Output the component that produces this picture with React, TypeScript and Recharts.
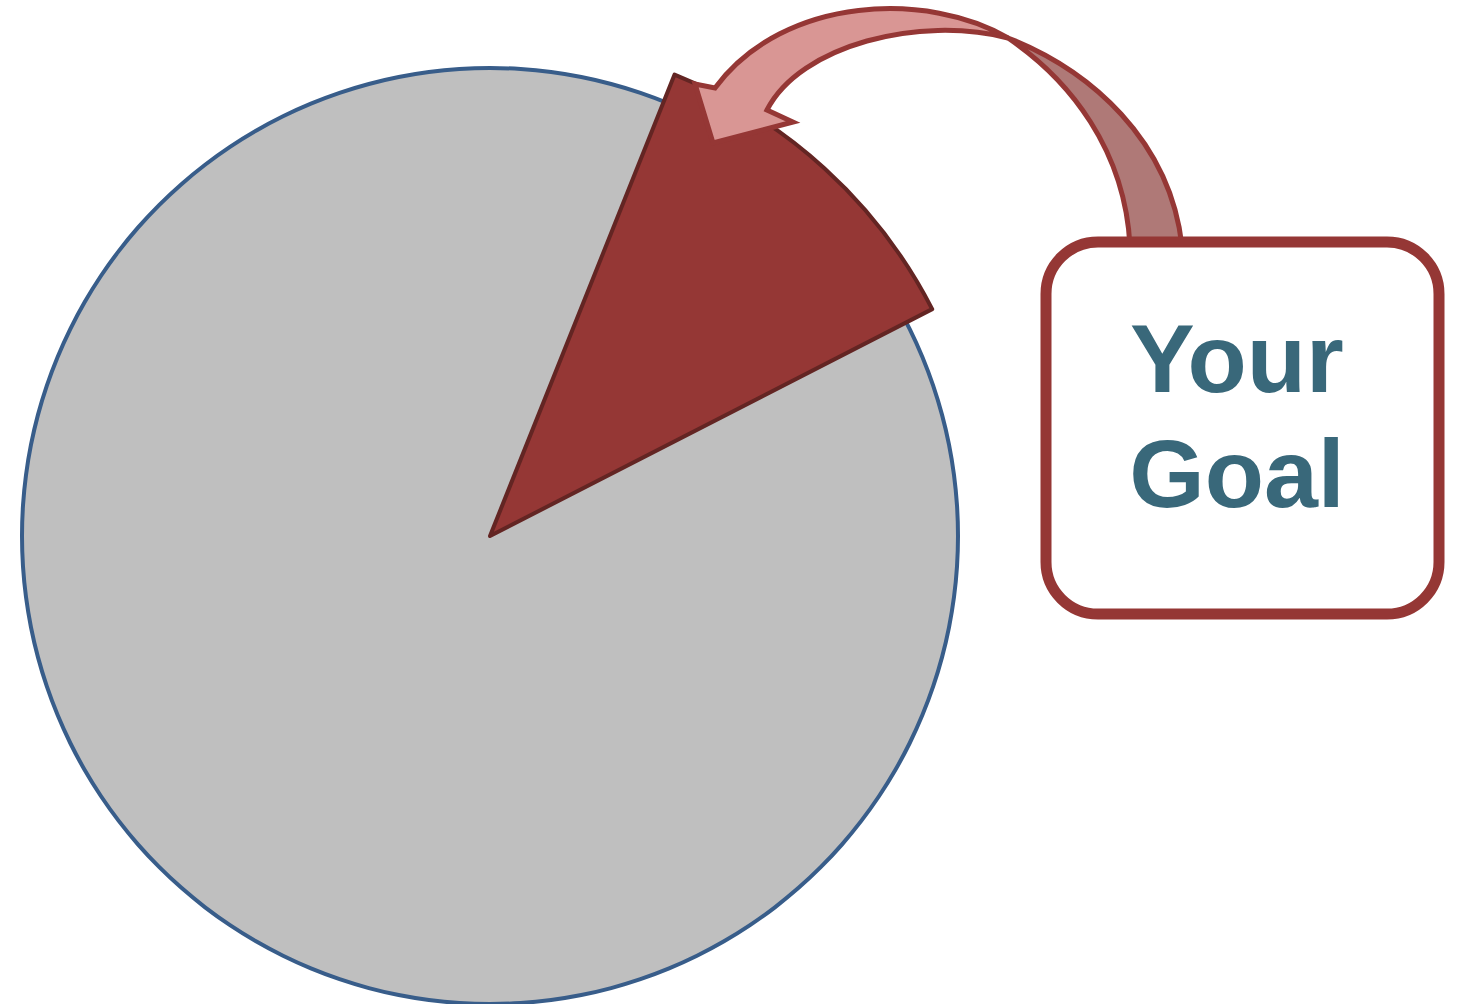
import { PieChart, Pie, Cell } from "recharts";

// share of the whole that the goal wedge covers
const sliceNames = ["Your Goal", "Rest"];
const sliceValues = [11.4, 88.6];
const wholeNames = ["All"];
const wholeValues = [100];
const calloutLines = ["Your", "Goal"];

const goalData = sliceNames.map((name, i) => ({ name, value: sliceValues[i] }));
const wholeData = wholeNames.map((name, i) => ({ name, value: wholeValues[i] }));

const W = 1468;
const H = 1004;
const CX = 490;
const CY = 536;

// curved block arrow from the callout box up and over onto the wedge
function Callout() {
  const front =
    "M1008,38 C930,-8 785,-6 715,88 L695,84 L713,143 L793,122 L767,110 C800,45 920,15 1008,38 Z";
  const back =
    "M1008,38 C1090,70 1170,140 1182,246 L1130,246 C1125,150 1070,80 1008,38 Z";
  return (
    <svg
      width={W}
      height={H}
      style={{ position: "absolute", left: 0, top: 0, pointerEvents: "none" }}
    >
      <path d={back} fill="#af7977" stroke="#953735" strokeWidth={5} strokeLinejoin="round" />
      <path d={front} fill="#d99694" stroke="#953735" strokeWidth={5} strokeLinejoin="miter" />
      <rect x={1046} y={242} width={393} height={372} rx={52} ry={52} fill="#ffffff" stroke="#953735" strokeWidth={11} />
      {calloutLines.map((t, i) => (
        <text
          key={t}
          x={1237}
          y={392 + i * 115}
          textAnchor="middle"
          fontFamily="'Liberation Sans', Arial, sans-serif"
          fontWeight="bold"
          fontSize={97}
          fill="#39687a"
        >
          {t}
        </text>
      ))}
    </svg>
  );
}

export default function App() {
  return (
    <div style={{ position: "absolute", left: 0, top: 0, width: W, height: H, background: "#fff" }}>
      <PieChart width={W} height={H} margin={{ top: 0, right: 0, bottom: 0, left: 0 }}>
        <Pie
          data={wholeData}
          dataKey="value"
          cx={CX}
          cy={CY}
          outerRadius={469}
          startAngle={0}
          endAngle={360}
          isAnimationActive={false}
          stroke="none"
        >
          <Cell fill="#bfbfbf" stroke="none" />
        </Pie>
        {/* outline as a thin ring so no radius seam shows */}
        <Pie
          data={wholeData}
          dataKey="value"
          cx={CX}
          cy={CY}
          innerRadius={466}
          outerRadius={470}
          startAngle={0}
          endAngle={360}
          isAnimationActive={false}
          stroke="none"
        >
          <Cell fill="#385d8a" stroke="none" />
        </Pie>
        <Pie
          data={goalData}
          dataKey="value"
          cx={CX}
          cy={CY}
          outerRadius={497}
          startAngle={68.2}
          endAngle={-291.8}
          isAnimationActive={false}
          strokeWidth={4}
        >
          <Cell fill="#953735" stroke="#632523" strokeLinejoin="round" />
          <Cell fill="none" stroke="none" />
        </Pie>
      </PieChart>
      <Callout />
    </div>
  );
}
